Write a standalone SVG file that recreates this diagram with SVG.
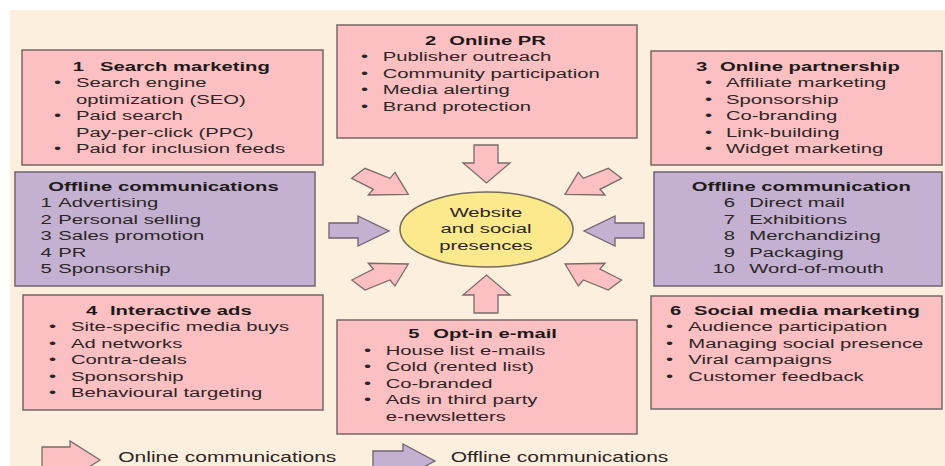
<svg xmlns="http://www.w3.org/2000/svg" width="945" height="466" viewBox="0 0 945 466">
<style>
.bg{fill:#fdefdd}
.pink{fill:#fcbfc2;stroke:#756868;stroke-width:1.5}
.purple{fill:#c4b0d0;stroke:#6e6470;stroke-width:1.5}
.ell{fill:#fce98c;stroke:#756a5e;stroke-width:1.5}
.apink{fill:#fcbfc2;stroke:#7a6b6b;stroke-width:1.3;stroke-linejoin:miter}
.apurple{fill:#c4b0d0;stroke:#6e6470;stroke-width:1.3}
text{font-family:"Liberation Sans",Arial,sans-serif;font-size:13.5px;fill:#2b2626}
.b{font-weight:bold;fill:#1e1a1a}
.lg{font-size:14px}
.mid{text-anchor:middle}
.end{text-anchor:end}
</style>
<rect class="bg" x="10" y="10" width="935" height="456"/>

<g id="connectors">
  <polygon class="apink" points="351.7,178.3 365,168.3 390,178.3 395,172.3 408.3,194.3 368.3,195 373.3,189.3"/>
  <polygon class="apink" points="351.7,178.3 365,168.3 390,178.3 395,172.3 408.3,194.3 368.3,195 373.3,189.3" transform="matrix(-1 0 0 1 973.3 0)"/>
  <polygon class="apink" points="351.7,178.3 365,168.3 390,178.3 395,172.3 408.3,194.3 368.3,195 373.3,189.3" transform="matrix(1 0 0 -1 0 458.3)"/>
  <polygon class="apink" points="351.7,178.3 365,168.3 390,178.3 395,172.3 408.3,194.3 368.3,195 373.3,189.3" transform="matrix(-1 0 0 -1 973.3 458.3)"/>
  <polygon class="apink" points="474,145 498,145 498,163 510,163 486.5,183 463,163 474,163"/>
  <polygon class="apink" points="474,145 498,145 498,163 510,163 486.5,183 463,163 474,163" transform="matrix(1 0 0 -1 0 458)"/>
  <polygon class="apurple" points="329,223 358,223 358,216 389,231 358,246 358,238 329,238"/>
  <polygon class="apurple" points="329,223 358,223 358,216 389,231 358,246 358,238 329,238" transform="matrix(-1 0 0 1 973 0)"/>
</g>

<g id="center">
  <ellipse class="ell" cx="486.5" cy="229.5" rx="86.5" ry="37.5"/>
  <g transform="scale(1.5 1)">
    <text class="mid" x="324" y="217">Website</text>
    <text class="mid" x="324" y="233.5">and social</text>
    <text class="mid" x="324" y="250">presences</text>
  </g>
</g>

<g id="search-marketing">
  <rect class="pink" x="22" y="50" width="301" height="115"/>
  <g transform="scale(1.5 1)">
    <text class="b" x="48.47" y="71">1</text><text class="b" x="66.67" y="71">Search marketing</text>
    <text x="36" y="87.5">•</text><text x="50.67" y="87.5">Search engine</text>
    <text x="50.67" y="104">optimization (SEO)</text>
    <text x="36" y="120.5">•</text><text x="50.67" y="120.5">Paid search</text>
    <text x="50.67" y="137">Pay-per-click (PPC)</text>
    <text x="36" y="153.5">•</text><text x="50.67" y="153.5">Paid for inclusion feeds</text>
  </g>
</g>

<g id="offline-left">
  <rect class="purple" x="15" y="172" width="300" height="114"/>
  <g transform="scale(1.5 1)">
    <text class="b" x="32.2" y="191">Offline communications</text>
    <text x="27" y="207.5">1</text><text x="38.8" y="207.5">Advertising</text>
    <text x="27" y="224">2</text><text x="38.8" y="224">Personal selling</text>
    <text x="27" y="240.5">3</text><text x="38.8" y="240.5">Sales promotion</text>
    <text x="27" y="257">4</text><text x="38.8" y="257">PR</text>
    <text x="27" y="273.5">5</text><text x="38.8" y="273.5">Sponsorship</text>
  </g>
</g>

<g id="online-pr">
  <rect class="pink" x="337" y="25" width="300" height="113"/>
  <g transform="scale(1.5 1)">
    <text class="b" x="283.33" y="45">2</text><text class="b" x="299.53" y="45">Online PR</text>
    <text x="240.67" y="61.5">•</text><text x="255.13" y="61.5">Publisher outreach</text>
    <text x="240.67" y="78">•</text><text x="255.13" y="78">Community participation</text>
    <text x="240.67" y="94.5">•</text><text x="255.13" y="94.5">Media alerting</text>
    <text x="240.67" y="111">•</text><text x="255.13" y="111">Brand protection</text>
  </g>
</g>

<g id="online-partnership">
  <rect class="pink" x="651" y="51" width="291" height="114"/>
  <g transform="scale(1.5 1)">
    <text class="b" x="464" y="71">3</text><text class="b" x="480" y="71">Online partnership</text>
    <text x="470" y="87.5">•</text><text x="484" y="87.5">Affiliate marketing</text>
    <text x="470" y="104">•</text><text x="484" y="104">Sponsorship</text>
    <text x="470" y="120.5">•</text><text x="484" y="120.5">Co-branding</text>
    <text x="470" y="137">•</text><text x="484" y="137">Link-building</text>
    <text x="470" y="153.5">•</text><text x="484" y="153.5">Widget marketing</text>
  </g>
</g>

<g id="offline-right">
  <rect class="purple" x="654" y="172" width="288" height="114"/>
  <g transform="scale(1.5 1)">
    <text class="b" x="461.13" y="191">Offline communication</text>
    <text class="end" x="490" y="207.5">6</text><text x="499.53" y="207.5">Direct mail</text>
    <text class="end" x="490" y="224">7</text><text x="499.53" y="224">Exhibitions</text>
    <text class="end" x="490" y="240.5">8</text><text x="499.53" y="240.5">Merchandizing</text>
    <text class="end" x="490" y="257">9</text><text x="499.53" y="257">Packaging</text>
    <text class="end" x="490" y="273.5">10</text><text x="499.53" y="273.5">Word-of-mouth</text>
  </g>
</g>

<g id="interactive-ads">
  <rect class="pink" x="23" y="295" width="300" height="115"/>
  <g transform="scale(1.5 1)">
    <text class="b" x="57.33" y="315">4</text><text class="b" x="73.33" y="315">Interactive ads</text>
    <text x="32.67" y="331.5">•</text><text x="47.33" y="331.5">Site-specific media buys</text>
    <text x="32.67" y="348">•</text><text x="47.33" y="348">Ad networks</text>
    <text x="32.67" y="364.5">•</text><text x="47.33" y="364.5">Contra-deals</text>
    <text x="32.67" y="381">•</text><text x="47.33" y="381">Sponsorship</text>
    <text x="32.67" y="397.5">•</text><text x="47.33" y="397.5">Behavioural targeting</text>
  </g>
</g>

<g id="opt-in-email">
  <rect class="pink" x="337" y="320" width="300" height="114"/>
  <g transform="scale(1.5 1)">
    <text class="b" x="272.2" y="338.5">5</text><text class="b" x="288.87" y="338.5">Opt-in e-mail</text>
    <text x="242.67" y="355">•</text><text x="257.13" y="355">House list e-mails</text>
    <text x="242.67" y="371.5">•</text><text x="257.13" y="371.5">Cold (rented list)</text>
    <text x="242.67" y="388">•</text><text x="257.13" y="388">Co-branded</text>
    <text x="242.67" y="404.5">•</text><text x="257.13" y="404.5">Ads in third party</text>
    <text x="257.13" y="421">e-newsletters</text>
  </g>
</g>

<g id="social-media">
  <rect class="pink" x="651" y="296" width="291" height="113"/>
  <g transform="scale(1.5 1)">
    <text class="b" x="446.67" y="315">6</text><text class="b" x="462.67" y="315">Social media marketing</text>
    <text x="444" y="331.5">•</text><text x="458.87" y="331.5">Audience participation</text>
    <text x="444" y="348">•</text><text x="458.87" y="348">Managing social presence</text>
    <text x="444" y="364.5">•</text><text x="458.87" y="364.5">Viral campaigns</text>
    <text x="444" y="381">•</text><text x="458.87" y="381">Customer feedback</text>
  </g>
</g>

<g id="legend">
  <polygon class="apink" points="42,447 70,447 70,441 100,460 70,479 70,473 42,473"/>
  <polygon class="apurple" points="373,451 403,451 403,444 435,461 403,478 403,471 373,471"/>
  <g transform="scale(1.5 1)">
    <text class="lg" x="78.87" y="462.5">Online communications</text>
    <text class="lg" x="300.47" y="462">Offline communications</text>
  </g>
</g>
</svg>
